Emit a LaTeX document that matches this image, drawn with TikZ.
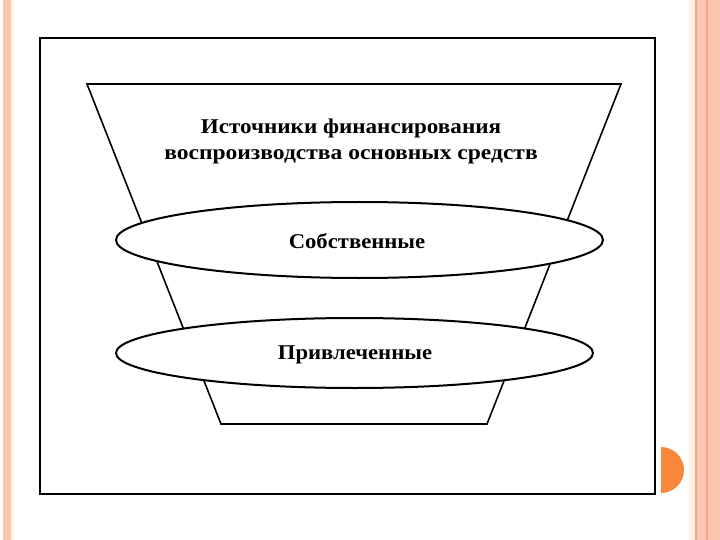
\documentclass[tikz,border=0pt]{standalone}
\usepackage{fontspec}
\setmainfont{Liberation Serif}
\usetikzlibrary{shapes.geometric}
\definecolor{salmon}{HTML}{FBC6AE}
\definecolor{salmondk}{HTML}{F2A789}
\definecolor{creamy}{HTML}{FDF1E6}
\definecolor{dotorange}{HTML}{F7883A}
\tikzset{
  frameline/.style={draw=black,line width=2.5pt},
  funnelline/.style={draw=black,line width=1.6pt,line join=miter},
  ring/.style={ellipse,draw=black,line width=2pt,fill=white,inner sep=0pt},
  lbl/.style={font=\bfseries\fontsize{21}{26}\selectfont,align=center,inner sep=0pt}
}
\begin{document}
\begin{tikzpicture}[x=1pt,y=-1pt]
\useasboundingbox (0,0) rectangle (720,540);
\fill[white] (0,0) rectangle (720,540);
% left decorative stripe
\fill[salmon] (3,0) rectangle (10.5,540);
\fill[creamy] (10.5,0) rectangle (14,540);
% right decorative stripes
\fill[creamy] (689,0) rectangle (695,540);
\fill[salmon] (695,0) rectangle (720,540);
\fill[salmondk] (695,0) rectangle (697,540);
\fill[salmondk] (706,0) rectangle (708,540);
% orange half disc
\begin{scope}
\clip (661,440) rectangle (700,500);
\fill[dotorange] (661,470) circle (23);
\end{scope}
% frame
\draw[frameline] (40,38) rectangle (655,494);
% funnel
\coordinate (tl) at (87,84);
\coordinate (tr) at (621,84);
\coordinate (br) at (487,424);
\coordinate (bl) at (221,424);
\draw[funnelline] (tl) -- (tr) -- (br) -- (bl) -- cycle;
% ellipses
\node[ring,minimum width=487pt,minimum height=76pt] (own) at (359.5,240) {};
\node[ring,minimum width=477pt,minimum height=70pt] (borrowed) at (354.5,353) {};
% texts
\node[lbl] (title) at (351,141) {\scalebox{1.1}[1]{Источники финансирования}\\\scalebox{1.12}[1]{воспроизводства основных средств}};
\node[lbl] (ownt) at (357,241) {\scalebox{1.08}[1]{Собственные}};
\node[lbl] (bort) at (355,355) {\scalebox{1.08}[1]{Привлеченные}};
\end{tikzpicture}
\end{document}
